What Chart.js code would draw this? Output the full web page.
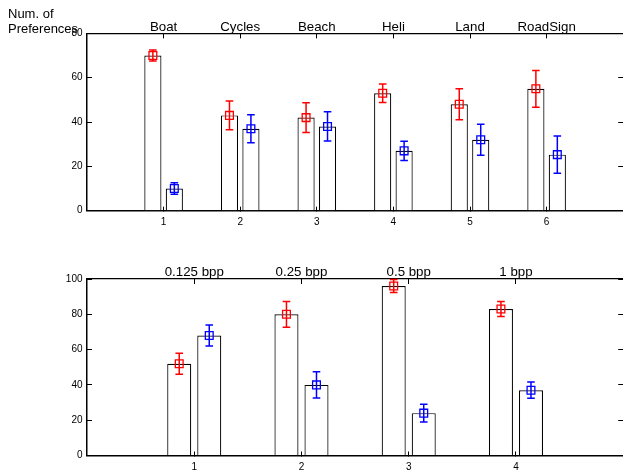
<!DOCTYPE html>
<html>
<head>
<meta charset="utf-8">
<script src="https://cdn.jsdelivr.net/npm/chart.js@4.4.1/dist/chart.umd.min.js"></script>
<style>
  html, body { margin: 0; padding: 0; background: #fff; overflow: hidden; }
  #wrap { position: relative; width: 630px; height: 471px; }
  canvas { position: absolute; left: 0; }
  #c1 { top: 0; }
  #c2 { top: 240px; }
  #ylab { position: absolute; left: 8px; top: 7px; font: 13px 'Liberation Sans', Arial, sans-serif; line-height: 14.5px; color: #000; }
</style>
</head>
<body>
<div id="wrap">
  <canvas id="c1" width="630" height="240"></canvas>
  <canvas id="c2" width="630" height="231"></canvas>
  <div id="ylab">Num. of<br>Preferences</div>
</div>
<script>
// ── Dados: gráfico de cima (cenas) ────────────────────────────
const scenes       = ['Boat', 'Cycles', 'Beach', 'Heli', 'Land', 'RoadSign'];
const sceneRed     = [70, 43, 42, 53, 48, 55];
const sceneRedErr  = [2.5, 6.5, 6.7, 4.2, 7, 8.3];
const sceneBlue    = [10, 37, 38, 27, 32, 25.3];
const sceneBlueErr = [2.6, 6.3, 6.6, 4.3, 7, 8.4];
const sceneYTicks  = [0, 20, 40, 60, 80];

// ── Dados: gráfico de baixo (taxas) ───────────────────────────
const rates        = ['0.125 bpp', '0.25 bpp', '0.5 bpp', '1 bpp'];
const rateRed      = [52, 80, 96, 83];
const rateRedErr   = [6, 7.3, 3.7, 4.3];
const rateBlue     = [68, 40, 24, 37];
const rateBlueErr  = [6, 7.4, 5, 4.6];
const rateYTicks   = [0, 20, 40, 60, 80, 100];

const FONT = "'Liberation Sans', Arial, Helvetica, sans-serif";
const OFF  = 0.14;   // deslocamento de cada barra em relação ao tick

// barras de erro desenhadas junto com os marcadores
const errorBars = {
  id: 'errorBars',
  afterDatasetDraw(chart, args) {
    const ds = chart.data.datasets[args.index];
    if (!ds.errors) return;
    const x = chart.scales.x, y = chart.scales.y, ctx = chart.ctx;
    ctx.save();
    ctx.strokeStyle = ds.borderColor;
    ctx.lineWidth = 1.5;
    ds.data.forEach((p, i) => {
      const px = x.getPixelForValue(p.x);
      const lo = y.getPixelForValue(p.y - ds.errors[i]);
      const hi = y.getPixelForValue(p.y + ds.errors[i]);
      ctx.beginPath();
      ctx.moveTo(px, lo);       ctx.lineTo(px, hi);
      ctx.moveTo(px - 3.8, lo); ctx.lineTo(px + 3.8, lo);
      ctx.moveTo(px - 3.8, hi); ctx.lineTo(px + 3.8, hi);
      ctx.stroke();
    });
    ctx.restore();
  }
};

function makeChart(id, cats, red, redErr, blue, blueErr, yTicks, box) {
  const at = (vals, d) => vals.map((v, i) => ({ x: i + 1 + d, y: v }));
  const catTicks = s => { s.ticks = cats.map((c, i) => ({ value: i + 1 })); };
  const yTickSet = s => { s.ticks = yTicks.map(v => ({ value: v })); };
  const yMax = yTicks[yTicks.length - 1];
  const marker = (data, errs, color) => ({
    type: 'scatter', data, errors: errs, xAxisID: 'x', yAxisID: 'y',
    borderColor: color, backgroundColor: 'rgba(0,0,0,0)',
    pointStyle: 'rect', pointRadius: 5.5, borderWidth: 1.3, order: 0
  });
  const bars = data => ({
    type: 'bar', data, xAxisID: 'x', yAxisID: 'y', grouped: false,
    backgroundColor: '#fff', borderColor: '#000', borderWidth: 1.2,
    barPercentage: 0.8, categoryPercentage: 1, order: 1
  });

  return new Chart(document.getElementById(id), {
    type: 'bar',
    data: {
      datasets: [
        marker(at(red, -OFF), redErr, '#ff0000'),
        marker(at(blue, OFF), blueErr, '#0000ff'),
        bars(at(red, -OFF)),
        bars(at(blue, OFF))
      ]
    },
    plugins: [errorBars],
    options: {
      responsive: false, animation: false,
      layout: { padding: 0 },
      plugins: { legend: { display: false }, tooltip: { enabled: false } },
      scales: {
        x: {
          type: 'linear', position: 'bottom', min: 0, max: cats.length + 1, offset: false,
          afterBuildTicks: catTicks,
          ticks: { color: '#000', font: { family: FONT, size: 10 }, padding: 10, maxRotation: 0, autoSkip: false },
          grid: { drawOnChartArea: false, offset: false, tickLength: -4, color: '#000' },
          border: { color: '#000', width: 1.5 },
          afterFit: s => { s.height = box.h - box.bottom; }
        },
        xTop: {
          type: 'linear', position: 'top', min: 0, max: cats.length + 1, offset: false,
          afterBuildTicks: catTicks,
          ticks: { color: '#000', font: { family: FONT, size: 13.3 }, padding: 3.5, maxRotation: 0, autoSkip: false,
                   callback: v => cats[v - 1] },
          grid: { drawOnChartArea: false, offset: false, tickLength: -5, color: '#000' },
          border: { color: '#000', width: 1.2 },
          afterFit: s => { s.height = box.top; }
        },
        y: {
          type: 'linear', position: 'left', min: 0, max: yMax,
          afterBuildTicks: yTickSet,
          ticks: { color: '#000', font: { family: FONT, size: 10 }, padding: 9.5 },
          grid: { drawOnChartArea: false, tickLength: -5, color: '#000' },
          border: { color: '#000', width: 1.5 },
          afterFit: s => { s.width = 87; }
        },
        yRight: {
          type: 'linear', position: 'right', min: 0, max: yMax,
          afterBuildTicks: yTickSet,
          ticks: { display: false },
          grid: { drawOnChartArea: false, tickLength: -5, color: '#000' },
          border: { display: false },
          afterFit: s => { s.width = 5; }
        }
      }
    }
  });
}

makeChart('c1', scenes, sceneRed, sceneRedErr, sceneBlue, sceneBlueErr, sceneYTicks, { h: 240, top: 33.4, bottom: 210.7 });
makeChart('c2', rates, rateRed, rateRedErr, rateBlue, rateBlueErr, rateYTicks, { h: 231, top: 39, bottom: 216 });
</script>
</body>
</html>
